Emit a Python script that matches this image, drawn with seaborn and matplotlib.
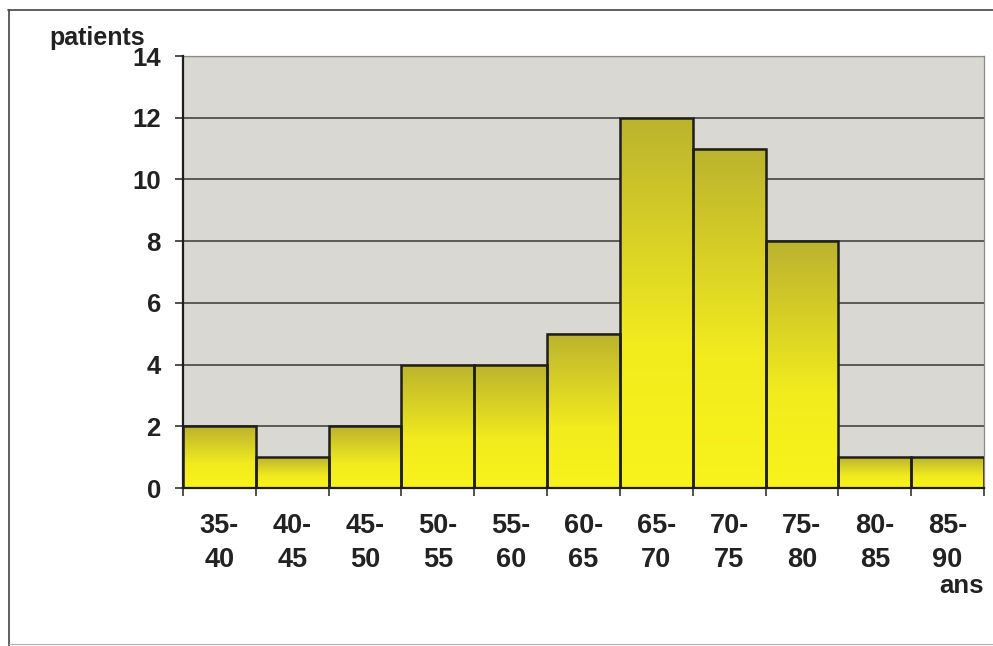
import numpy as np
import pandas as pd
import matplotlib
matplotlib.use("Agg")
import matplotlib.pyplot as plt
from matplotlib.colors import LinearSegmentedColormap
from matplotlib.lines import Line2D
import seaborn as sns

# Age groups (years) and number of patients in each group
age_groups = ["35-\n40", "40-\n45", "45-\n50", "50-\n55", "55-\n60", "60-\n65",
              "65-\n70", "70-\n75", "75-\n80", "80-\n85", "85-\n90"]
patients = [2, 1, 2, 4, 4, 5, 12, 11, 8, 1, 1]
y_ticks = [0, 2, 4, 6, 8, 10, 12, 14]

sns.set_theme(style="white")
plt.rcParams["font.family"] = ["Liberation Sans", "DejaVu Sans"]
plt.rcParams["font.weight"] = "bold"

df = pd.DataFrame({"age": age_groups, "patients": patients})

fig = plt.figure(figsize=(9.93, 6.46), dpi=100)
ax = fig.add_axes([183 / 993, 1 - 488 / 646, (984 - 183) / 993, (488 - 56) / 646])
ax.set_facecolor("#dad8d3")

sns.barplot(data=df, x="age", y="patients", ax=ax, width=1.0,
            color="#f2ec22", edgecolor="#1e1e1e", linewidth=1.8,
            saturation=1, zorder=3)

# Vertical yellow-to-olive shading inside each bar
shade = LinearSegmentedColormap.from_list(
    "bar_shade", [(0.0, "#f8f21c"), (0.38, "#f3ec1e"), (1.0, "#bbb32e")])
grad = np.linspace(0, 1, 256).reshape(-1, 1)
for p in ax.patches:
    x0, w, h = p.get_x(), p.get_width(), p.get_height()
    p.set_facecolor("none")
    ax.imshow(grad, cmap=shade, origin="lower", aspect="auto",
              extent=[x0, x0 + w, 0, h], zorder=2.5, interpolation="bilinear")

ax.set_xlim(-0.5, len(age_groups) - 0.5)
ax.set_ylim(0, 14)

# Horizontal grid lines behind the bars
for v in y_ticks[1:-1]:
    ax.axhline(v, color="#383838", lw=1.1, zorder=1)
ax.axhline(14, color="#8a8a8a", lw=0.9, zorder=1)

for side in ["top", "right"]:
    ax.spines[side].set_visible(True)
    ax.spines[side].set_color("#8a8a8a")
    ax.spines[side].set_linewidth(0.9)
for side in ["left", "bottom"]:
    ax.spines[side].set_color("#1e1e1e")
    ax.spines[side].set_linewidth(1.6)
    ax.spines[side].set_zorder(4)

# y axis
ax.set_yticks(y_ticks)
ax.set_yticklabels([str(v) for v in y_ticks], fontsize=18.5, fontweight="bold",
                   color="#222222")
ax.tick_params(axis="y", direction="out", length=6, width=1.2, color="#333333",
               pad=10, left=True)

# x axis: ticks at the group boundaries, labels centred on the bars
ax.set_xticks(np.arange(-0.5, len(age_groups), 1.0))
ax.set_xticklabels([])
ax.set_xticks(np.arange(len(age_groups)), minor=True)
ax.set_xticklabels(age_groups, minor=True, fontsize=19.5, fontweight="bold",
                   color="#222222", linespacing=1.4)
ax.tick_params(axis="x", which="major", direction="out", length=6, width=1.2,
               color="#333333", bottom=True)
ax.tick_params(axis="x", which="minor", length=0, pad=18, bottom=True)
ax.set_xlabel("")
ax.set_ylabel("")

fig.text(49 / 993, 1 - 45 / 646, "patients", fontsize=18, fontweight="bold",
         color="#222222", ha="left", va="baseline")
fig.text(984 / 993, 1 - 593 / 646, "ans", fontsize=18.5, fontweight="bold",
         color="#222222", ha="right", va="baseline")

# Frame around the figure
frame_kw = dict(color="#444444", lw=1.2, transform=fig.transFigure)
fig.add_artist(Line2D([8 / 993, 1.0], [1 - 10 / 646, 1 - 10 / 646], **frame_kw))
fig.add_artist(Line2D([9 / 993, 9 / 993], [1 - 10 / 646, 0.0], **frame_kw))
fig.add_artist(Line2D([9 / 993, 1.0], [1 - 644 / 646, 1 - 644 / 646],
                      color="#b0b0b0", lw=0.8, transform=fig.transFigure))

fig.savefig("out.png", dpi=100, facecolor="white")
